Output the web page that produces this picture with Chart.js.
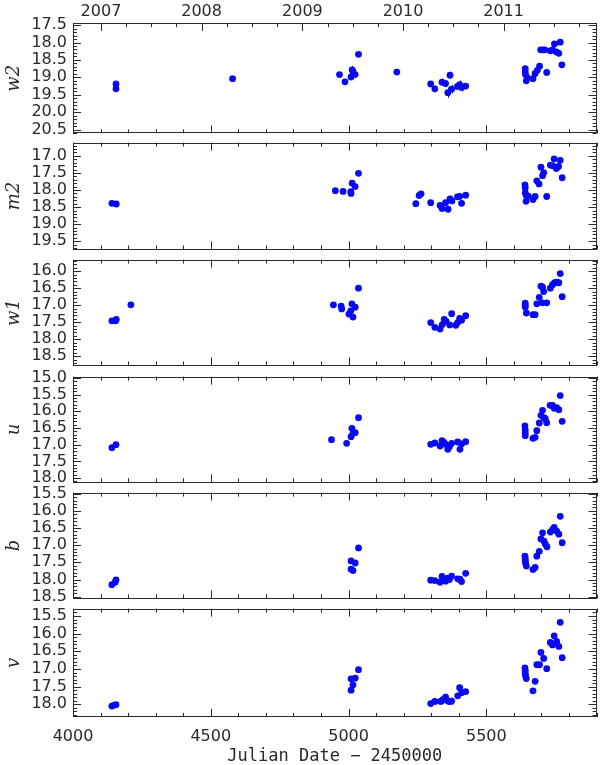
<!DOCTYPE html>
<html>
<head>
<meta charset="utf-8">
<script src="https://cdn.jsdelivr.net/npm/chart.js@4"></script>
<style>
  html, body { margin: 0; padding: 0; background: #fff; }
  #page { position: relative; width: 600px; height: 765px; overflow: hidden; }
  #page canvas { position: absolute; left: 0; }
</style>
</head>
<body>
<div id="page"></div>
<script>
/* Swift UVOT light curves, JD - 2450000 vs magnitude */
const xMin = 4000;
const xMax = 5900;
const xTickValues = [4000, 4500, 5000, 5500];
const yearJd = [4101.5, 4466.5, 4832.5, 5197.5, 5562.5];
const yearLabels = ["2007", "2008", "2009", "2010", "2011"];

const w2Jd = [4156, 4156, 4579, 4967, 4987, 5009, 5013, 5016, 5024, 5036, 5175,
  5298, 5313, 5339, 5352, 5360, 5368, 5374, 5395, 5403, 5410, 5425,
  5641, 5641, 5642, 5645, 5648, 5669, 5677, 5685, 5693, 5697, 5706, 5712, 5719,
  5732, 5740, 5747, 5754, 5763, 5768, 5774];
const w2Mag = [19.19, 19.33, 19.04, 18.92, 19.13, 18.99, 18.79, 18.83, 18.92, 18.34, 18.85,
  19.19, 19.33, 19.14, 19.18, 19.44, 18.94, 19.34, 19.26, 19.21, 19.29, 19.25,
  18.75, 18.84, 18.92, 19.10, 19.01, 19.04, 18.89, 18.80, 18.68, 18.21, 18.21, 18.21, 18.86,
  18.24, 18.21, 18.04, 18.27, 18.31, 17.99, 18.64];
const w2Err = [0.06, 0.05, 0.06, 0.05, 0.05, 0.05, 0.12, 0.05, 0.05, 0.05, 0.05,
  0.08, 0.10, 0.10, 0.10, 0.15, 0.10, 0.12, 0.08, 0.12, 0.12, 0.06,
  0.05, 0.05, 0.05, 0.05, 0.05, 0.06, 0.06, 0.05, 0.08, 0.04, 0.04, 0.04, 0.06,
  0.04, 0.04, 0.05, 0.05, 0.05, 0.04, 0.08];
const w2Ticks = [17.5, 18.0, 18.5, 19.0, 19.5, 20.0, 20.5];

const m2Jd = [4141, 4157, 4952, 4980, 5008, 5009, 5013, 5024, 5036,
  5244, 5256, 5263, 5298, 5332, 5339, 5352, 5361, 5368, 5375, 5395, 5403, 5410, 5425,
  5640, 5641, 5641, 5644, 5644, 5652, 5669, 5677, 5683, 5691, 5698, 5704, 5708, 5719,
  5732, 5741, 5746, 5754, 5762, 5768, 5775];
const m2Mag = [18.39, 18.41, 18.02, 18.04, 18.05, 18.10, 17.80, 17.90, 17.51,
  18.40, 18.16, 18.11, 18.37, 18.45, 18.54, 18.37, 18.56, 18.26, 18.32, 18.20, 18.19, 18.39, 18.15,
  17.85, 17.93, 18.08, 18.15, 18.33, 18.18, 18.28, 18.19, 17.73, 17.82, 17.33, 17.58, 17.49, 18.19,
  17.27, 17.29, 17.09, 17.37, 17.31, 17.13, 17.64];
const m2Err = [0.08, 0.06, 0.05, 0.05, 0.06, 0.05, 0.06, 0.05, 0.07,
  0.05, 0.05, 0.05, 0.06, 0.08, 0.10, 0.06, 0.10, 0.10, 0.08, 0.07, 0.08, 0.08, 0.05,
  0.06, 0.05, 0.05, 0.05, 0.08, 0.05, 0.07, 0.06, 0.05, 0.05, 0.05, 0.05, 0.05, 0.06,
  0.05, 0.05, 0.05, 0.05, 0.05, 0.05, 0.06];
const m2Ticks = [17.0, 17.5, 18.0, 18.5, 19.0, 19.5];

const w1Jd = [4141, 4155, 4157, 4210, 4945, 4973, 4975, 5001, 5008, 5012, 5016, 5024, 5036,
  5298, 5313, 5332, 5340, 5347, 5354, 5367, 5374, 5389, 5396, 5403, 5410, 5425,
  5641, 5641, 5641, 5645, 5669, 5677, 5683, 5692, 5698, 5704, 5708, 5703, 5719,
  5732, 5740, 5748, 5755, 5763, 5768, 5775];
const w1Mag = [17.46, 17.46, 17.42, 16.99, 16.99, 17.03, 17.11, 17.26, 17.17, 16.96, 17.35, 17.06, 16.50,
  17.51, 17.65, 17.70, 17.57, 17.42, 17.48, 17.58, 17.25, 17.59, 17.51, 17.39, 17.44, 17.31,
  16.94, 17.00, 17.05, 17.23, 17.28, 17.28, 16.96, 16.77, 16.44, 16.47, 16.60, 16.93, 16.93,
  16.50, 16.40, 16.34, 16.32, 16.34, 16.07, 16.75];
const w1Err = [0.05, 0.05, 0.05, 0.06, 0.04, 0.04, 0.04, 0.05, 0.05, 0.04, 0.08, 0.04, 0.04,
  0.05, 0.05, 0.08, 0.06, 0.05, 0.05, 0.06, 0.05, 0.08, 0.05, 0.05, 0.05, 0.05,
  0.04, 0.04, 0.04, 0.04, 0.05, 0.05, 0.04, 0.04, 0.04, 0.04, 0.04, 0.04, 0.04,
  0.04, 0.04, 0.04, 0.04, 0.04, 0.04, 0.05];
const w1Ticks = [16.0, 16.5, 17.0, 17.5, 18.0, 18.5];

const uJd = [4141, 4156, 4938, 4993, 5009, 5012, 5016, 5024, 5036,
  5298, 5313, 5332, 5339, 5346, 5352, 5360, 5366, 5374, 5396, 5404, 5410, 5425,
  5640, 5641, 5641, 5641, 5669, 5677, 5683, 5692, 5698, 5704, 5709, 5714, 5719,
  5731, 5740, 5746, 5755, 5763, 5768, 5775];
const uMag = [17.09, 17.00, 16.85, 16.96, 16.76, 16.51, 16.66, 16.64, 16.19,
  16.99, 16.95, 17.04, 16.88, 16.93, 16.99, 17.14, 17.06, 16.96, 16.92, 17.14, 16.98, 16.91,
  16.44, 16.56, 16.65, 16.73, 16.81, 16.78, 16.58, 16.35, 16.12, 15.97, 16.19, 16.22, 16.34,
  15.82, 15.82, 15.91, 15.89, 15.95, 15.53, 16.30];
const uErr = [0.05, 0.05, 0.04, 0.04, 0.04, 0.04, 0.04, 0.04, 0.04,
  0.05, 0.05, 0.05, 0.05, 0.05, 0.05, 0.05, 0.05, 0.05, 0.05, 0.05, 0.05, 0.05,
  0.04, 0.04, 0.04, 0.04, 0.04, 0.04, 0.04, 0.04, 0.04, 0.04, 0.04, 0.04, 0.04,
  0.04, 0.04, 0.04, 0.04, 0.04, 0.04, 0.04];
const uTicks = [15.0, 15.5, 16.0, 16.5, 17.0, 17.5, 18.0];

const bJd = [4141, 4153, 4156, 5009, 5009, 5016, 5024, 5036,
  5298, 5313, 5332, 5339, 5346, 5352, 5360, 5366, 5374, 5396, 5404, 5410, 5425,
  5640, 5641, 5641, 5642, 5645, 5669, 5677, 5683, 5692, 5698, 5704, 5709, 5714, 5720,
  5732, 5740, 5746, 5755, 5763, 5768, 5775];
const bMag = [18.15, 18.08, 18.01, 17.46, 17.70, 17.74, 17.52, 17.08,
  18.02, 18.03, 18.08, 17.91, 18.00, 18.05, 17.96, 18.00, 17.90, 17.98, 17.99, 18.06, 17.82,
  17.32, 17.39, 17.46, 17.52, 17.61, 17.71, 17.65, 17.32, 17.18, 16.82, 16.64, 16.88, 16.97, 17.05,
  16.62, 16.55, 16.48, 16.59, 16.68, 16.16, 16.93];
const bErr = [0.06, 0.05, 0.05, 0.04, 0.08, 0.04, 0.04, 0.04,
  0.05, 0.05, 0.05, 0.05, 0.05, 0.05, 0.05, 0.05, 0.05, 0.05, 0.05, 0.06, 0.05,
  0.04, 0.04, 0.04, 0.04, 0.04, 0.04, 0.04, 0.04, 0.04, 0.04, 0.04, 0.04, 0.04, 0.04,
  0.04, 0.04, 0.04, 0.04, 0.04, 0.04, 0.04];
const bTicks = [15.5, 16.0, 16.5, 17.0, 17.5, 18.0, 18.5];

const vJd = [4141, 4148, 4156, 5009, 5009, 5016, 5024, 5036,
  5298, 5313, 5334, 5342, 5352, 5360, 5367, 5374, 5396, 5403, 5410, 5425,
  5640, 5641, 5641, 5642, 5645, 5669, 5677, 5683, 5693, 5698, 5708, 5719,
  5732, 5740, 5746, 5755, 5763, 5768, 5775];
const vMag = [18.05, 18.03, 18.01, 17.60, 17.28, 17.45, 17.26, 17.02,
  17.98, 17.92, 17.92, 17.87, 17.80, 17.91, 17.92, 17.91, 17.76, 17.53, 17.67, 17.64,
  16.97, 17.04, 17.12, 17.19, 17.27, 17.62, 17.35, 16.88, 16.88, 16.53, 16.70, 16.99,
  16.25, 16.32, 16.06, 16.22, 16.36, 15.68, 16.68];
const vErr = [0.08, 0.06, 0.06, 0.05, 0.05, 0.05, 0.05, 0.05,
  0.10, 0.10, 0.10, 0.12, 0.10, 0.10, 0.10, 0.10, 0.08, 0.07, 0.07, 0.06,
  0.05, 0.05, 0.05, 0.05, 0.05, 0.07, 0.06, 0.05, 0.05, 0.05, 0.05, 0.05,
  0.05, 0.05, 0.05, 0.05, 0.05, 0.05, 0.05];
const vTicks = [15.5, 16.0, 16.5, 17.0, 17.5, 18.0];

const panels = [
  { name: "w2", jd: w2Jd, mag: w2Mag, err: w2Err, ticks: w2Ticks, min: 17.44, max: 20.61, top: 23, bottom: 137 },
  { name: "m2", jd: m2Jd, mag: m2Mag, err: m2Err, ticks: m2Ticks, min: 16.61, max: 19.74, top: 139, bottom: 253 },
  { name: "w1", jd: w1Jd, mag: w1Mag, err: w1Err, ticks: w1Ticks, min: 15.66, max: 18.77, top: 256, bottom: 369 },
  { name: "u", jd: uJd, mag: uMag, err: uErr, ticks: uTicks, min: 14.96, max: 18.13, top: 373, bottom: 486 },
  { name: "b", jd: bJd, mag: bMag, err: bErr, ticks: bTicks, min: 15.47, max: 18.55, top: 489, bottom: 602 },
  { name: "v", jd: vJd, mag: vMag, err: vErr, ticks: vTicks, min: 15.29, max: 18.36, top: 605, bottom: 717 }
];

const ink = "#2a2a2a";
const dotColor = "#0a0af0";
const tickFont = { family: "DejaVu Sans", size: 16 };

/* IDL style box: frame plus inward ticks on all four sides */
const idlFrame = {
  id: "idlFrame",
  afterDraw(chart) {
    const { ctx, chartArea: a } = chart;
    const x = chart.scales.x, y = chart.scales.y;
    const top = chart.scales.xTop;
    ctx.save();
    ctx.strokeStyle = ink;
    ctx.lineWidth = 1;
    ctx.beginPath();
    for (let i = Math.ceil(y.min * 10); i <= Math.floor(y.max * 10); i++) {
      const py = Math.round(y.getPixelForValue(i / 10)) + 0.5;
      const len = i % 5 === 0 ? 8 : 4;
      ctx.moveTo(a.left, py); ctx.lineTo(a.left + len, py);
      ctx.moveTo(a.right, py); ctx.lineTo(a.right - len, py);
    }
    for (let v = xMin; v <= xMax; v += 100) {
      const px = Math.round(x.getPixelForValue(v)) + 0.5;
      const len = v % 500 === 0 ? 8 : 4;
      ctx.moveTo(px, a.bottom); ctx.lineTo(px, a.bottom - len);
      if (!top) { ctx.moveTo(px, a.top); ctx.lineTo(px, a.top + len); }
    }
    if (top) {
      yearJd.forEach(v => {
        const px = Math.round(top.getPixelForValue(v)) + 0.5;
        ctx.moveTo(px, a.top); ctx.lineTo(px, a.top + 8);
        for (let q = 1; q < 4; q++) {
          const qx = Math.round(top.getPixelForValue(v + q * 91.3)) + 0.5;
          if (qx < a.right) { ctx.moveTo(qx, a.top); ctx.lineTo(qx, a.top + 4); }
        }
      });
    }
    ctx.stroke();
    ctx.strokeRect(Math.round(a.left) + 0.5, Math.round(a.top) + 0.5,
      Math.round(a.width) - 1, Math.round(a.height) - 1);
    ctx.restore();
  }
};

/* vertical error bars drawn under the dots */
const errorBars = {
  id: "errorBars",
  beforeDatasetsDraw(chart) {
    const { ctx } = chart;
    const x = chart.scales.x, y = chart.scales.y;
    const ds = chart.data.datasets[0];
    ctx.save();
    ctx.strokeStyle = dotColor;
    ctx.lineWidth = 1;
    ctx.beginPath();
    ds.data.forEach((pt, i) => {
      const px = Math.round(x.getPixelForValue(pt.x)) + 0.5;
      ctx.moveTo(px, y.getPixelForValue(pt.y - ds.errs[i]));
      ctx.lineTo(px, y.getPixelForValue(pt.y + ds.errs[i]));
    });
    ctx.stroke();
    ctx.restore();
  }
};

const page = document.getElementById("page");

panels.forEach((p, k) => {
  const first = k === 0;
  const last = k === panels.length - 1;
  const canvasTop = first ? 0 : p.top - 12;
  const canvasBottom = last ? 765 : p.bottom + 12;

  const canvas = document.createElement("canvas");
  canvas.width = 600;
  canvas.height = canvasBottom - canvasTop;
  canvas.style.top = canvasTop + "px";
  canvas.style.width = "600px";
  canvas.style.height = (canvasBottom - canvasTop) + "px";
  page.appendChild(canvas);

  const scales = {
    x: {
      type: "linear",
      position: "bottom",
      min: xMin,
      max: xMax,
      display: last,
      grid: { display: false, drawTicks: false },
      border: { display: false },
      afterBuildTicks: s => { s.ticks = xTickValues.map(v => ({ value: v })); },
      afterFit: s => { s.height = last ? 765 - p.bottom : 0; },
      ticks: { color: ink, font: tickFont, padding: 10, maxRotation: 0, autoSkip: false, callback: v => String(v) },
      title: {
        display: last,
        text: "Julian Date \u2212 2450000",
        color: ink,
        font: { family: "DejaVu Sans Mono", size: 17, lineHeight: 1 },
        padding: 0
      }
    },
    y: {
      type: "linear",
      position: "left",
      reverse: true,
      min: p.min,
      max: p.max,
      grid: { display: false, drawTicks: false },
      border: { display: false },
      afterBuildTicks: s => { s.ticks = p.ticks.map(v => ({ value: v })); },
      afterFit: s => { s.width = 73; },
      ticks: { color: ink, font: tickFont, padding: 6, autoSkip: false, callback: v => v.toFixed(1) },
      title: {
        display: true,
        text: p.name,
        color: ink,
        font: { family: "DejaVu Serif", style: "italic", size: 18 },
        padding: { top: 4, bottom: 0 }
      }
    }
  };

  if (first) {
    scales.xTop = {
      type: "linear",
      position: "top",
      min: xMin,
      max: xMax,
      grid: { display: false, drawTicks: false },
      border: { display: false },
      afterBuildTicks: s => { s.ticks = yearJd.map(v => ({ value: v })); },
      afterFit: s => { s.height = 23; },
      ticks: { color: ink, font: tickFont, padding: 2, maxRotation: 0, autoSkip: false,
        callback: (v, i) => yearLabels[i] }
    };
  }

  new Chart(canvas, {
    type: "scatter",
    data: {
      datasets: [{
        data: p.jd.map((jd, i) => ({ x: jd, y: p.mag[i] })),
        errs: p.err,
        backgroundColor: dotColor,
        borderWidth: 0,
        pointRadius: 3.4,
        pointHoverRadius: 3.4
      }]
    },
    options: {
      responsive: false,
      animation: false,
      events: [],
      layout: { padding: { left: 0, right: 3, top: first ? 0 : 12, bottom: last ? 0 : 12 } },
      plugins: { legend: { display: false }, tooltip: { enabled: false } },
      scales
    },
    plugins: [errorBars, idlFrame]
  });
});
</script>
</body>
</html>
